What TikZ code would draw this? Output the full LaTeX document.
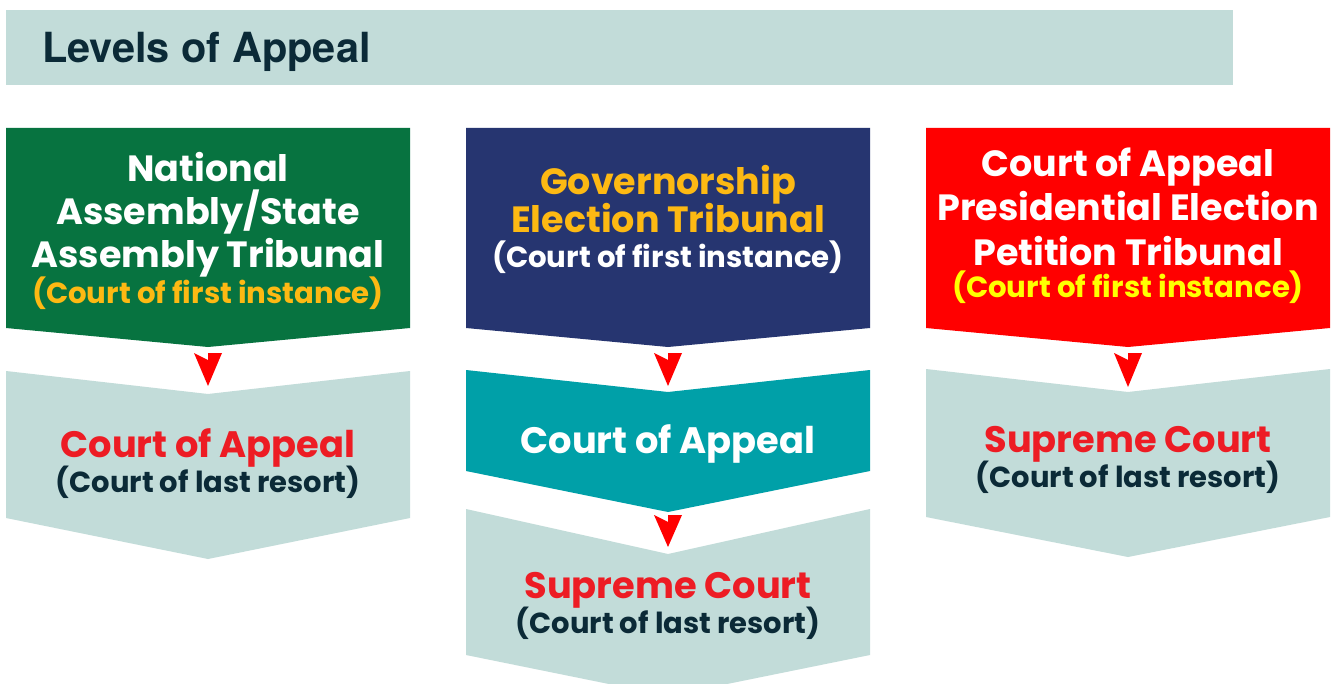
\documentclass[tikz,border=0pt]{standalone}
\usepackage{fontspec}
\setmainfont{Poppins}
\newfontfamily\headfont{TeX Gyre Heros}
\usetikzlibrary{calc}

\definecolor{bandgrey}{HTML}{C2DCD9}
\definecolor{inkdark}{HTML}{0B2A37}
\definecolor{boxgreen}{HTML}{077340}
\definecolor{boxnavy}{HTML}{263570}
\definecolor{boxred}{HTML}{FF0000}
\definecolor{boxteal}{HTML}{00A0A8}
\definecolor{goldtext}{HTML}{FDB913}
\definecolor{yellowtext}{HTML}{FFFF00}
\definecolor{redtext}{HTML}{ED1C24}
\definecolor{tipred}{HTML}{FF0000}

% font size given in pixels (1px = 0.75pt)
\newcommand\pxsize[1]{\fontsize{\fpeval{#1*0.75}pt}{\fpeval{#1*0.9}pt}\selectfont}

% chevron panel: left, right, top side, top centre, bottom side, bottom point
\newcommand\levelbox[7]{%
  \fill[#7] (#1,#3) -- ({(#1+#2)/2},#4) -- (#2,#3) -- (#2,#5)
    -- ({(#1+#2)/2},#6) -- (#1,#5) -- cycle;}

\tikzset{
  bigline/.style={anchor=base, font=\bfseries\pxsize{36.5}},
  subline/.style={anchor=base, font=\bfseries\pxsize{29.2}},
  resline/.style={anchor=base, font=\bfseries\pxsize{36.8}},
  lastline/.style={anchor=base, font=\bfseries\pxsize{29}, text=inkdark},
  tip/.style={fill=tipred},
}

\begin{document}
\begin{tikzpicture}[x=0.75pt,y=-0.75pt]
\useasboundingbox (0,0) rectangle (1333,684);
\fill[white] (0,0) rectangle (1333,684);

% title band
\fill[bandgrey] (6,10) rectangle (1233,85);
\node[anchor=base west, inner sep=0pt, text=inkdark,
      font=\headfont\bfseries\pxsize{41.5}] (title) at (42,63) {Levels of Appeal};

% column 1
\levelbox{6}{410}{128}{128}{328}{347}{boxgreen}
\levelbox{6}{410}{371}{394}{518}{559}{bandgrey}
\coordinate (a1) at (208,353);
\fill[tip] (a1) -- ++(14,0) -- (208,386) -- (194,353) -- (208,360) -- cycle;
\node[bigline, text=white] (n1) at (208,182) {National};
\node[bigline, text=white] (n2) at (208,224) {Assembly/State};
\node[bigline, text=white] (n3) at (208,267) {Assembly Tribunal};
\node[subline, text=goldtext] (n4) at (208,303) {(Court of first instance)};
\node[resline, text=redtext] (n5) at (208,457) {Court of Appeal};
\node[lastline] (n6) at (208,492) {(Court of last resort)};

% column 2
\levelbox{466}{870}{128}{128}{328}{347}{boxnavy}
\levelbox{466}{870}{509}{554}{655}{696}{bandgrey}
\levelbox{466}{870}{370}{392}{471}{512}{boxteal}
\coordinate (a2) at (668,353);
\fill[tip] (a2) -- ++(14,0) -- (668,386) -- (654,353) -- (668,360) -- cycle;
\coordinate (a3) at (668,515);
\fill[tip] (a3) -- ++(14,0) -- (668,547) -- (654,515) -- (668,522) -- cycle;
\node[bigline, text=goldtext] (g1) at (668,195) {Governorship};
\node[bigline, text=goldtext] (g2) at (668,233) {Election Tribunal};
\node[subline, text=white] (g3) at (668,267) {(Court of first instance)};
\node[resline, text=white] (g4) at (668,453) {Court of Appeal};
\node[resline, text=redtext] (g5) at (668,598) {Supreme Court};
\node[lastline] (g6) at (668,633) {(Court of last resort)};

% column 3
\levelbox{926}{1330}{128}{128}{328}{347}{boxred}
\levelbox{926}{1330}{369}{392}{517}{557}{bandgrey}
\coordinate (a4) at (1128,353);
\fill[tip] (a4) -- ++(14,0) -- (1128,387) -- (1114,353) -- (1128,360) -- cycle;
\node[bigline, text=white] (p1) at (1128,177) {Court of Appeal};
\node[bigline, text=white] (p2) at (1128,220) {Presidential Election};
\node[bigline, text=white] (p3) at (1128,265) {Petition Tribunal};
\node[subline, text=yellowtext] (p4) at (1128,297) {(Court of first instance)};
\node[resline, text=redtext] (p5) at (1128,452) {Supreme Court};
\node[lastline] (p6) at (1128,487) {(Court of last resort)};
\end{tikzpicture}
\end{document}
